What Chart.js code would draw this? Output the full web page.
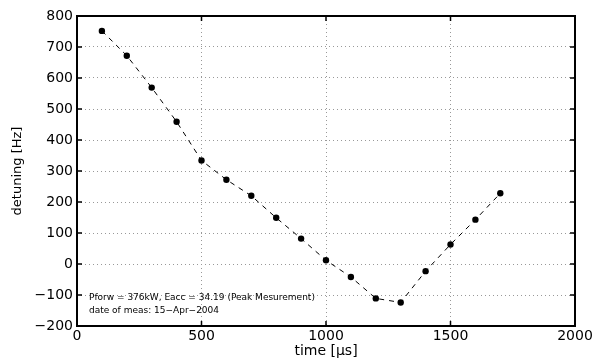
<!DOCTYPE html>
<html lang="en">
<head>
    <meta charset="UTF-8">
    <title>Detuning vs time</title>
    <style>
        html, body { margin: 0; padding: 0; background: #fff; }
        #wrap { width: 596px; height: 360px; }
    </style>
    <script src="https://cdn.jsdelivr.net/npm/chart.js"></script>
</head>
<body>
    <div id="wrap"><canvas id="detuningChart" width="596" height="360"></canvas></div>

    <script>
        // Measured detuning per time step
        const times = [100, 200, 300, 400, 500, 600, 700, 800, 900, 1000, 1100, 1200, 1300, 1400, 1500, 1600, 1700];
        const detuning = [752, 672, 569, 459, 334, 272, 220, 149, 82, 12, -42, -111, -124, -23, 63, 143, 228];

        // Axis ranges / tick steps
        const xRange = [0, 2000];
        const xStep = 500;
        const yRange = [-200, 800];
        const yStep = 100;

        const noteLines = [
            'Pforw = 376kW, Eacc = 34.19 (Peak Mesurement)',
            'date of meas: 15\u2212Apr\u22122004'
        ];

        const tickFont = { family: 'DejaVu Sans', size: 14 };

        // frame, inward ticks and the note text
        const framePlugin = {
            id: 'frame',
            afterDraw(chart) {
                const { ctx, chartArea: a, scales } = chart;
                ctx.save();
                ctx.strokeStyle = '#000';
                ctx.lineWidth = 1.5;
                const tl = 5;
                ctx.beginPath();
                scales.x.ticks.forEach(t => {
                    const px = scales.x.getPixelForValue(t.value);
                    ctx.moveTo(px, a.bottom); ctx.lineTo(px, a.bottom - tl);
                    ctx.moveTo(px, a.top); ctx.lineTo(px, a.top + tl);
                });
                scales.y.ticks.forEach(t => {
                    const py = scales.y.getPixelForValue(t.value);
                    ctx.moveTo(a.left, py); ctx.lineTo(a.left + tl, py);
                    ctx.moveTo(a.right, py); ctx.lineTo(a.right - tl, py);
                });
                ctx.stroke();
                ctx.lineWidth = 2;
                ctx.strokeRect(a.left, a.top, a.right - a.left, a.bottom - a.top);

                ctx.fillStyle = '#000';
                ctx.font = '9px "DejaVu Sans"';
                ctx.textBaseline = 'middle';
                const nx = scales.x.getPixelForValue(48);
                ctx.fillText(noteLines[0], nx, 298);
                ctx.fillText(noteLines[1], nx, 311);
                ctx.restore();
            }
        };

        const ctx = document.getElementById('detuningChart').getContext('2d');
        new Chart(ctx, {
            type: 'line',
            data: {
                datasets: [{
                    data: times.map((t, i) => ({ x: t, y: detuning[i] })),
                    borderColor: '#000',
                    borderWidth: 1,
                    borderDash: [5, 5],
                    backgroundColor: '#000',
                    pointRadius: 3.2,
                    pointBorderWidth: 0,
                    pointBackgroundColor: '#000',
                    tension: 0,
                    fill: false
                }]
            },
            options: {
                responsive: false,
                animation: false,
                layout: { padding: { top: 16, right: 21, left: 0, bottom: 0 } },
                plugins: { legend: { display: false }, tooltip: { enabled: false } },
                scales: {
                    x: {
                        type: 'linear',
                        min: xRange[0], max: xRange[1],
                        afterFit(s) { s.height = 34; },
                        ticks: {
                            stepSize: xStep,
                            color: '#000',
                            font: tickFont,
                            padding: 2,
                            maxRotation: 0,
                            callback: v => String(v)
                        },
                        grid: { color: '#999', lineWidth: 1, drawTicks: false },
                        border: { display: false, dash: [1, 3] },
                        title: {
                            display: true,
                            text: 'time [\u00b5s]',
                            color: '#000',
                            font: tickFont,
                            padding: { top: 0, bottom: 0 }
                        }
                    },
                    y: {
                        min: yRange[0], max: yRange[1],
                        afterFit(s) { s.width = 77; },
                        ticks: {
                            stepSize: yStep,
                            color: '#000',
                            font: tickFont,
                            padding: 4,
                            callback: v => String(v).replace('-', '\u2212')
                        },
                        grid: { color: '#999', lineWidth: 1, drawTicks: false },
                        border: { display: false, dash: [1, 3] },
                        title: {
                            display: true,
                            text: 'detuning [Hz]',
                            color: '#000',
                            font: { family: 'DejaVu Sans', size: 13 },
                            padding: { top: 10, bottom: 0 }
                        }
                    }
                }
            },
            plugins: [framePlugin]
        });
    </script>
</body>
</html>
